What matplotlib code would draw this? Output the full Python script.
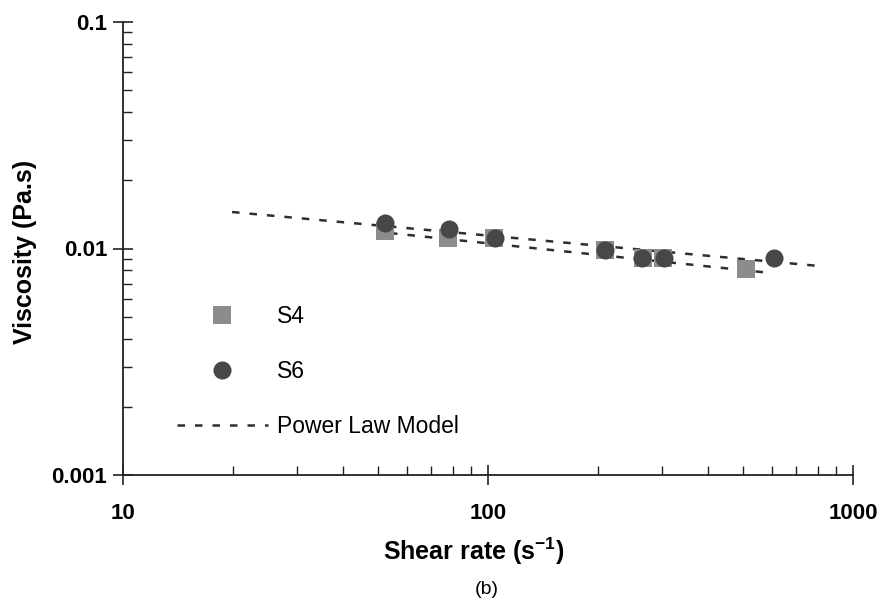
import matplotlib
matplotlib.use("Agg")
import matplotlib.pyplot as plt
from matplotlib.ticker import LogLocator, NullFormatter, FixedLocator, FixedFormatter

plt.rcParams['font.family'] = ['Liberation Sans', 'DejaVu Sans']
plt.rcParams['mathtext.default'] = 'regular'

# Data
s4_rate = [52.2, 77.7, 103.9, 209, 266, 302, 509]
s4_visc = [0.0119, 0.0111, 0.0111, 0.00985, 0.00908, 0.00908, 0.00812]
s6_rate = [52.2, 78.2, 104.5, 209, 264, 303, 608]
s6_visc = [0.0130, 0.0122, 0.0111, 0.00985, 0.00908, 0.00908, 0.00908]

# Power law model lines (end points of straight lines in log-log)
pl_s6_rate = [19.9, 801]
pl_s6_visc = [0.01449, 0.00838]
pl_s4_rate = [53.9, 593]
pl_s4_visc = [0.0117, 0.0078]

xticks = [10, 100, 1000]
xticklabels = ['10', '100', '1000']
yticks = [0.001, 0.01, 0.1]
yticklabels = ['0.001', '0.01', '0.1']

fig = plt.figure(figsize=(8.78, 6.10), dpi=100)
ax = fig.add_axes([123/878, 1-475/610, 730/878, 453/610])

line_col = '#2e2e2e'
ax.plot(pl_s6_rate, pl_s6_visc, color=line_col, lw=1.8, dashes=[3, 4], zorder=2,
        label='Power Law Model')
ax.plot(pl_s4_rate, pl_s4_visc, color=line_col, lw=1.8, dashes=[3, 4], zorder=2)

ax.plot(s4_rate, s4_visc, linestyle='none', marker='s', markersize=13,
        color='#8c8c8c', markeredgewidth=0, zorder=3, label='S4')
ax.plot(s6_rate, s6_visc, linestyle='none', marker='o', markersize=13,
        color='#474747', markeredgewidth=0, zorder=4, label='S6')

ax.set_xscale('log')
ax.set_yscale('log')
ax.set_xlim(10, 1000)
ax.set_ylim(0.001, 0.1)

ax.xaxis.set_major_locator(FixedLocator(xticks))
ax.xaxis.set_major_formatter(FixedFormatter(xticklabels))
ax.yaxis.set_major_locator(FixedLocator(yticks))
ax.yaxis.set_major_formatter(FixedFormatter(yticklabels))
ax.xaxis.set_minor_locator(LogLocator(base=10, subs=range(2, 10)))
ax.yaxis.set_minor_locator(LogLocator(base=10, subs=range(2, 10)))
ax.xaxis.set_minor_formatter(NullFormatter())
ax.yaxis.set_minor_formatter(NullFormatter())

for s in ['top', 'right']:
    ax.spines[s].set_visible(False)
for s in ['left', 'bottom']:
    ax.spines[s].set_linewidth(1.3)
    ax.spines[s].set_color('#222222')

ax.tick_params(which='major', direction='inout', length=13.7, width=1.2, color='#222222',
               labelsize=16)
ax.tick_params(axis='y', which='major', pad=4.5)
ax.tick_params(axis='x', which='major', pad=13)
ax.tick_params(which='minor', direction='in', length=6.5, width=1.0, color='#222222')
for lab in ax.get_xticklabels() + ax.get_yticklabels():
    lab.set_fontweight('bold')

ax.set_xlabel('Shear rate (s$^{\\mathregular{-1}}$)', fontsize=18, fontweight='bold')
ax.set_ylabel('Viscosity (Pa.s)', fontsize=18, fontweight='bold')
ax.xaxis.set_label_coords((474-123)/730, -(536-475)/453)
ax.yaxis.set_label_coords(-(123-37)/730, (475-252)/453)

handles, labels = ax.get_legend_handles_labels()
order = [1, 2, 0]
leg = ax.legend([handles[i] for i in order], [labels[i] for i in order],
                loc='upper left', bbox_to_anchor=((177-123)/730, 1-(305-22)/453),
                frameon=False, fontsize=16.5, handlelength=3.95, handletextpad=0.4,
                labelspacing=1.4, borderpad=0, borderaxespad=0)

fig.text(487/878, 1-590/610, '(b)', ha='center', va='center', fontsize=14)

fig.savefig('out.png', dpi=100)
